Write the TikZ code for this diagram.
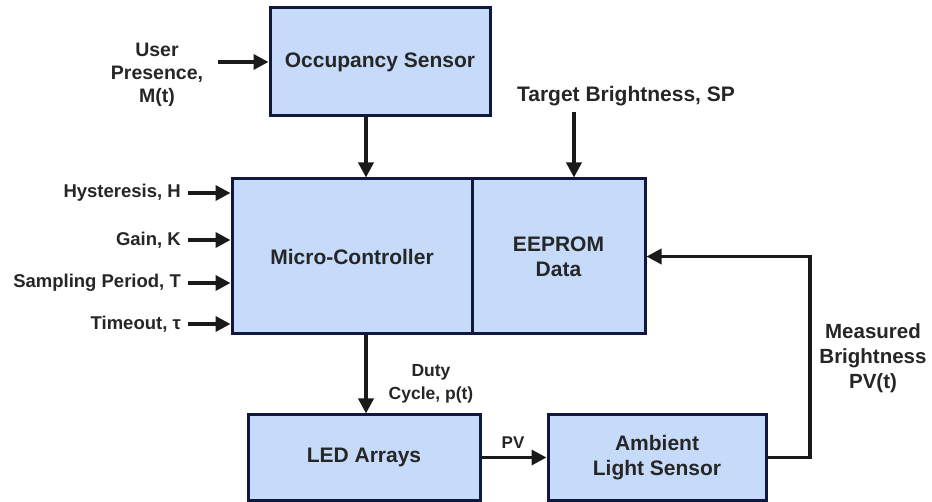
\documentclass[tikz,border=0pt]{standalone}
\usepackage{fontspec}
\setmainfont{Liberation Sans}
\usetikzlibrary{arrows.meta}
\definecolor{boxfill}{RGB}{198,218,250}
\definecolor{boxline}{RGB}{16,24,64}
\definecolor{arrowc}{RGB}{26,26,26}
\begin{document}
\begin{tikzpicture}[x=1pt,y=-1pt,
  blk/.style={draw=boxline, fill=boxfill, line width=3pt, inner sep=0pt, align=center,
              font=\fontsize{21}{25}\selectfont\bfseries, text=black!85},
  arr/.style={draw=arrowc, line width=3.5pt, -{Triangle[length=15pt,width=15pt]}},
  lbl/.style={inner sep=0pt, align=center, text=black!85},
  small/.style={lbl, font=\fontsize{18.5}{23}\selectfont\bfseries},
  large/.style={lbl, font=\fontsize{21}{25}\selectfont\bfseries}]
\useasboundingbox[fill=white] (0,0) rectangle (932,502);

% blocks
\node[blk, minimum width=220pt, minimum height=108pt] (occ) at (380,62) {Occupancy Sensor};
\node[blk, minimum width=240pt, minimum height=155pt] (mc) at (352,256.5) {Micro-Controller};
\node[blk, minimum width=173pt, minimum height=155pt] (ee) at (558.5,256.5) {EEPROM\\Data};
\node[blk, minimum width=232pt, minimum height=85pt] (led) at (364,457.5) {LED Arrays};
\node[blk, minimum width=218pt, minimum height=85pt] (als) at (657,457.5) {Ambient\\Light Sensor};

% labels
\node[small, font=\fontsize{19.5}{23}\selectfont\bfseries] (up) at (157,75) {User\\Presence,\\M(t)};
\node[small, anchor=east] (hy) at (181,193) {Hysteresis, H};
\node[small, anchor=east] (ga) at (181,240) {Gain, K};
\node[small, anchor=east] (sp) at (181,283) {Sampling Period, T};
\node[small, anchor=east] (to) at (181,324) {Timeout, τ};
\node[large] (tb) at (626,96) {Target Brightness, SP};
\node[large, font=\fontsize{20.5}{25}\selectfont\bfseries] (mb) at (873,358) {Measured\\Brightness\\PV(t)};
\node[small, font=\fontsize{17.5}{23}\selectfont\bfseries] (dc) at (431,383.5) {Duty\\Cycle, p(t)};
\node[small, font=\fontsize{17}{20}\selectfont\bfseries] (pv) at (513,443) {PV};

% connector anchors
\coordinate (upstart) at (218,62);
\coordinate (tbstart) at (574,112);
\coordinate (fb) at (810,380);

% connectors
\draw[arr] (upstart) -- (upstart -| occ.west);
\draw[arr] ([xshift=-14pt]occ.south) -- ([xshift=-14pt]occ.south |- mc.north);
\draw[arr] ([xshift=7pt]hy.east) -- (hy.east -| mc.west);
\draw[arr] ([xshift=7pt]ga.east) -- (ga.east -| mc.west);
\draw[arr] ([xshift=7pt]sp.east) -- (sp.east -| mc.west);
\draw[arr] ([xshift=7pt]to.east) -- (to.east -| mc.west);
\draw[arr] (tbstart) -- (tbstart |- ee.north);
\draw[arr] ([xshift=14pt]mc.south) -- ([xshift=14pt]mc.south |- led.north);
\draw[arr] (led.east) -- (als.west);
\draw[arr] (als.east) -| (fb) |- (ee.east);
\end{tikzpicture}
\end{document}
